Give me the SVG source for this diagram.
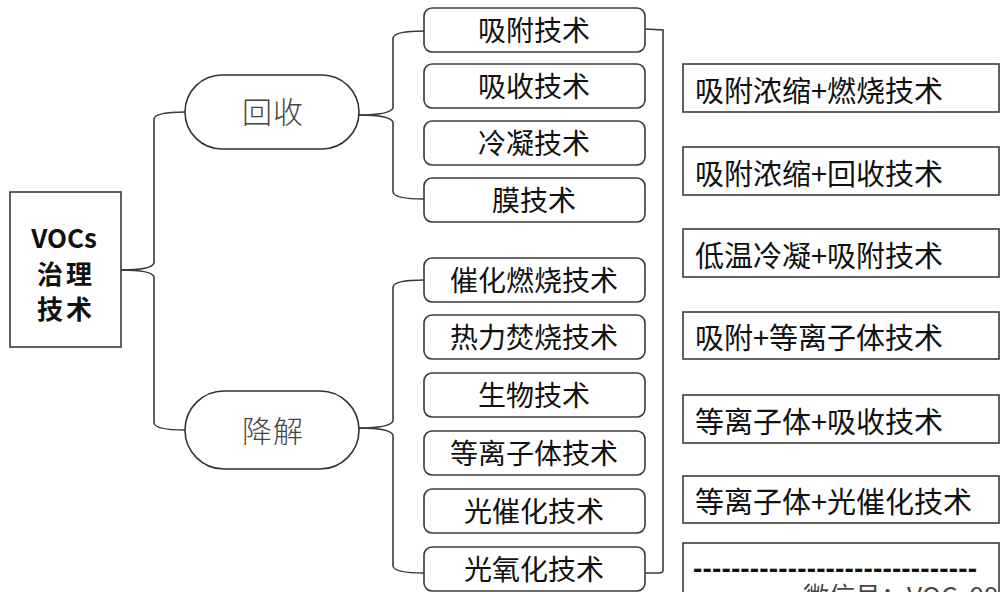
<svg xmlns="http://www.w3.org/2000/svg" width="1006" height="592" viewBox="0 0 1006 592">
<style>
.bg{fill:#fff}
.box{fill:#fff;stroke:#3a3a3a;stroke-width:1.6}
.pill{fill:#fff;stroke:#333;stroke-width:1.6}
.conn{fill:none;stroke:#3a3a3a;stroke-width:1.6}
.t{font-family:"Noto Sans CJK SC","Noto Sans",sans-serif;fill:#111;dominant-baseline:central}
.mid{font-size:28px;text-anchor:middle}
.right{font-size:29px}
.pt{font-size:30px;font-weight:300;fill:#444;text-anchor:middle;letter-spacing:1px}
.root{font-size:26px;font-weight:bold;text-anchor:middle}
</style>
<rect class="bg" x="0" y="0" width="1006" height="592"/>
<g id="connectors">
<path class="conn" d="M121,270 Q152,270 154,263 L154,119 Q155,112 185,112"/>
<path class="conn" d="M121,270 Q152,270 154,277 L154,423 Q155,430 185,430"/>
<path class="conn" d="M359,115 Q390,115 393,108 L393,38 Q394,31 424,31"/>
<path class="conn" d="M359,115 Q390,115 393,122 L393,192 Q394,199 424,199"/>
<path class="conn" d="M359,428 Q390,428 393,421 L393,287 Q394,280 424,280"/>
<path class="conn" d="M359,428 Q390,428 393,435 L393,566 Q394,573 424,573"/>
<path class="conn" d="M645,29 L663,30 L663,570 Q663,573 659,573 L645,573"/>
</g>
<g id="root">
<rect class="box" x="10" y="192" width="111" height="155"/>
<text class="t root" x="64" y="236">VOCs</text>
<text class="t root" x="66" y="272" font-size="27" letter-spacing="3">治理</text>
<text class="t root" x="66" y="307" font-size="27" letter-spacing="3">技术</text>
</g>
<g id="recycle">
<rect class="pill" x="185" y="75" width="174" height="74" rx="37"/>
<text class="t pt" x="273" y="110">回收</text>
</g>
<g id="degrade">
<rect class="pill" x="185" y="391" width="174" height="78" rx="39"/>
<text class="t pt" x="273" y="429">降解</text>
</g>
<g id="m1"><rect class="box" x="424" y="8" width="221" height="44" rx="8"/><text class="t mid" x="534" y="29">吸附技术</text></g>
<g id="m2"><rect class="box" x="424" y="64" width="221" height="44" rx="8"/><text class="t mid" x="534" y="85">吸收技术</text></g>
<g id="m3"><rect class="box" x="424" y="121" width="221" height="44" rx="8"/><text class="t mid" x="534" y="142">冷凝技术</text></g>
<g id="m4"><rect class="box" x="424" y="178" width="221" height="44" rx="8"/><text class="t mid" x="534" y="199">膜技术</text></g>
<g id="m5"><rect class="box" x="424" y="258" width="221" height="44" rx="8"/><text class="t mid" x="534" y="279">催化燃烧技术</text></g>
<g id="m6"><rect class="box" x="424" y="315" width="221" height="44" rx="8"/><text class="t mid" x="534" y="336">热力焚烧技术</text></g>
<g id="m7"><rect class="box" x="424" y="373" width="221" height="44" rx="8"/><text class="t mid" x="534" y="394">生物技术</text></g>
<g id="m8"><rect class="box" x="424" y="431" width="221" height="44" rx="8"/><text class="t mid" x="534" y="452">等离子体技术</text></g>
<g id="m9"><rect class="box" x="424" y="489" width="221" height="44" rx="8"/><text class="t mid" x="534" y="510">光催化技术</text></g>
<g id="m10"><rect class="box" x="424" y="547" width="221" height="44" rx="8"/><text class="t mid" x="534" y="568">光氧化技术</text></g>
<g id="r1"><rect class="box" x="683" y="64" width="316" height="48"/><text class="t right" x="695" y="89">吸附浓缩+燃烧技术</text></g>
<g id="r2"><rect class="box" x="683" y="147" width="316" height="48"/><text class="t right" x="695" y="172">吸附浓缩+回收技术</text></g>
<g id="r3"><rect class="box" x="683" y="229" width="316" height="48"/><text class="t right" x="695" y="254">低温冷凝+吸附技术</text></g>
<g id="r4"><rect class="box" x="683" y="312" width="316" height="47"/><text class="t right" x="695" y="336">吸附+等离子体技术</text></g>
<g id="r5"><rect class="box" x="683" y="395" width="316" height="48"/><text class="t right" x="695" y="420">等离子体+吸收技术</text></g>
<g id="r6"><rect class="box" x="683" y="476" width="316" height="47"/><text class="t right" x="695" y="500">等离子体+光催化技术</text></g>
<g id="r7">
<rect class="box" x="683" y="543" width="316" height="70"/>
<text x="693" y="578" font-family="Liberation Sans, Arial, sans-serif" font-size="28" font-weight="bold" fill="#111" textLength="284" lengthAdjust="spacing">------------------------------</text>
<text x="803" y="606" font-family="Noto Sans CJK SC, Noto Sans, sans-serif" font-size="26" fill="#444">微信号：VOCs99</text>
</g>
</svg>
